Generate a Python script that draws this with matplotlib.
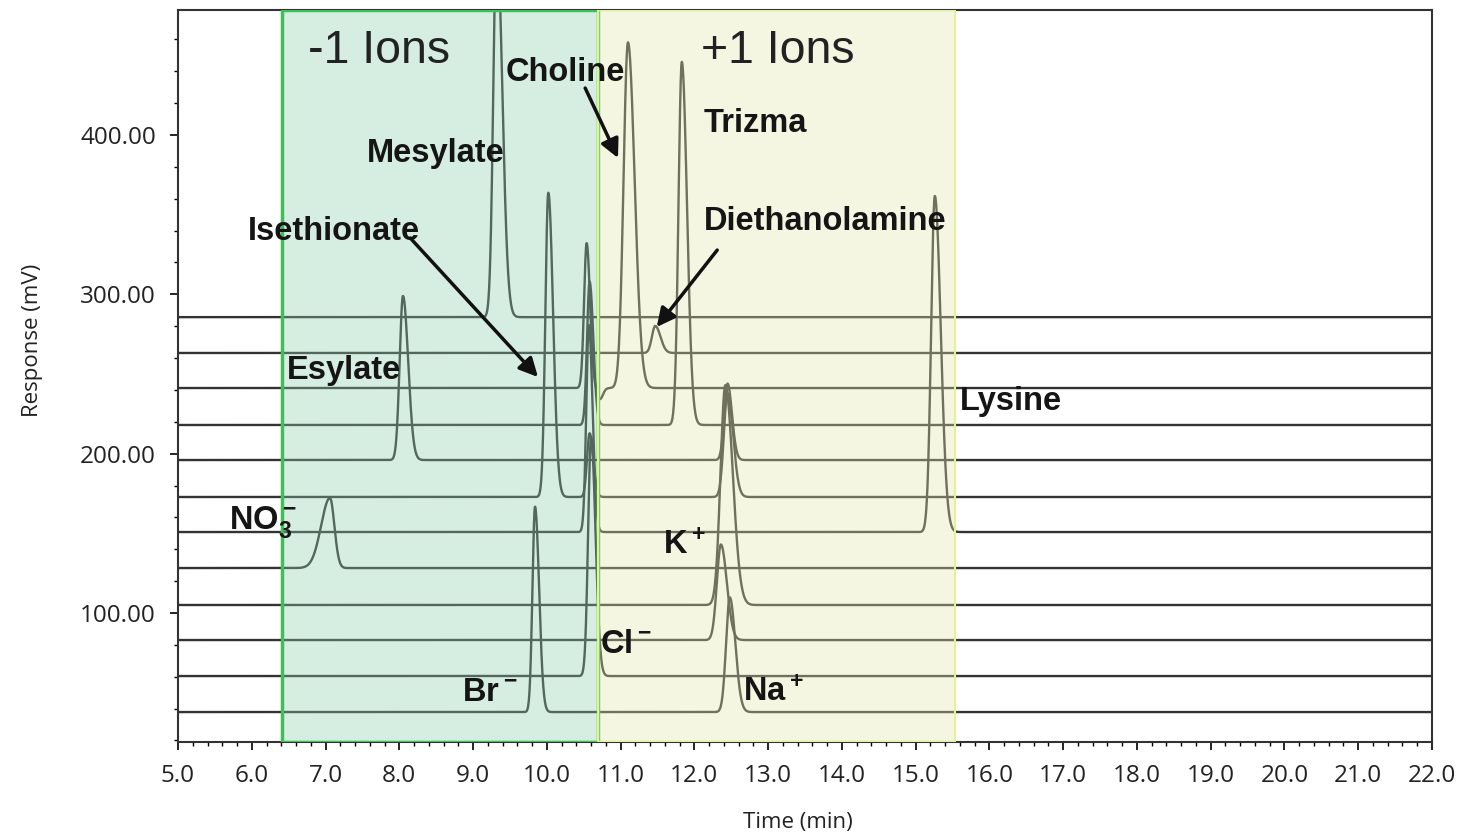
import numpy as np
import matplotlib.pyplot as plt
from matplotlib.patches import Rectangle
from matplotlib.ticker import MultipleLocator, FormatStrFormatter

plt.rcParams['font.family'] = ['Liberation Sans', 'DejaVu Sans']
plt.rcParams['mathtext.fontset'] = 'custom'
plt.rcParams['mathtext.rm'] = 'Liberation Sans'
plt.rcParams['mathtext.bf'] = 'Liberation Sans:bold'

# baseline of each stacked run (mV), top run first
baselines = [285.7, 263.2, 241.2, 218.0, 196.0, 172.8, 150.8, 128.2, 105.0, 83.0, 60.4, 37.8]

# peaks: run index, retention time (min), height above baseline (mV), left / right width (min)
peak_run    = [0,    1,     2,     2,     2,     3,     3,     4,    4,     5,     5,     5,
               6,     6,     7,    8,     9,     10,    11,    11]
peak_time   = [9.32, 11.47, 10.54, 10.72, 11.10, 10.58, 11.83, 8.05, 12.45, 10.02, 10.58, 12.45,
               10.57, 15.26, 7.06, 12.42, 12.36, 10.60, 9.84, 12.48]
peak_height = [240,  17,    91,    -7,    217,   90,    228,   103,  48,    191,   40,    65,
               130,   211,   44,   138,   60,    150,   129,  72]
peak_left   = [0.045, 0.045, 0.035, 0.03, 0.06,  0.035, 0.045, 0.045, 0.045, 0.04, 0.035, 0.05,
               0.035, 0.05,  0.12,  0.065, 0.055, 0.04,  0.035, 0.05]
peak_right  = [0.075, 0.07,  0.045, 0.04, 0.09,  0.05,  0.07,  0.07,  0.06,  0.065, 0.05, 0.075,
               0.05,  0.08,  0.06,  0.10,  0.08,  0.06,  0.055, 0.075]

# shaded retention windows
region_edges = [6.41, 10.69, 15.53]
region_names = ['-1 Ions', '+1 Ions']
region_name_x = [7.72, 13.13]
region_name_y = 453

# compound labels
label_text = ['Choline', 'Mesylate', 'Trizma', 'Isethionate', 'Diethanolamine', 'Esylate',
              'Lysine', r'$\mathbf{NO_3^-}$', r'$\mathbf{K^+}$', r'$\mathbf{Cl^-}$',
              r'$\mathbf{Br^-}$', r'$\mathbf{Na^+}$']
label_x = [10.25, 8.50, 12.82, 7.12, 13.77, 7.25, 16.29, 6.15, 11.86, 11.07, 9.23, 13.07]
label_y = [439.5, 388.7, 407.5, 339.7, 346.0, 252.5, 233.0, 157.0, 142.6, 80.0, 50.3, 50.3]

# arrows (from -> to)
arrow_from = [(8.15, 335.3), (10.52, 429.5), (12.31, 327.8)]
arrow_to = [(9.88, 248.1), (10.965, 385.6), (11.49, 279.5)]

t = np.linspace(5.0, 22.0, 4000)

fig = plt.figure(figsize=(14.58, 8.35), dpi=100)
ax = fig.add_axes([178 / 1458, 1 - 742 / 835, 1254 / 1458, 732 / 835])

for i, base in enumerate(baselines):
    y = np.full_like(t, base)
    for r, t0, h, sl, sr in zip(peak_run, peak_time, peak_height, peak_left, peak_right):
        if r != i:
            continue
        s = np.where(t < t0, sl, sr)
        y += h * np.exp(-0.5 * ((t - t0) / s) ** 2)
    ax.plot(t, y, color='#333333', lw=1.7, zorder=2)

# green window for anions, yellow for cations (drawn over the traces)
ax.add_patch(Rectangle((region_edges[0], 19), region_edges[1] - region_edges[0], 459.5,
                       facecolor=(0.55, 0.80, 0.68, 0.35), edgecolor='#3fbf55', lw=2.5, zorder=3))
ax.add_patch(Rectangle((region_edges[1], 19), region_edges[2] - region_edges[1], 459.5,
                       facecolor=(0.88, 0.90, 0.67, 0.35), edgecolor='#e3f29a', lw=1.5, zorder=3))

for name, x in zip(region_names, region_name_x):
    ax.text(x, region_name_y, name, fontsize=33.5, ha='center', va='center', color='#222222', zorder=5)

for s, x, y in zip(label_text, label_x, label_y):
    ax.text(x, y, s, fontsize=23.5, fontweight='bold', ha='center', va='center', color='#151515', zorder=5)

for a, b in zip(arrow_from, arrow_to):
    ax.annotate('', xy=b, xytext=a, zorder=5,
                arrowprops=dict(arrowstyle='-|>', color='#111111', lw=2.5, mutation_scale=28,
                                shrinkA=0, shrinkB=0))

ax.set_xlim(5.0, 22.0)
ax.set_ylim(19, 478.5)
ax.set_xticks(np.arange(5.0, 22.01, 1.0))
ax.set_yticks([100, 200, 300, 400])
ax.xaxis.set_minor_locator(MultipleLocator(0.2))
ax.yaxis.set_minor_locator(MultipleLocator(20))
ax.xaxis.set_major_formatter(FormatStrFormatter('%.1f'))
ax.yaxis.set_major_formatter(FormatStrFormatter('%.2f'))
ax.tick_params(which='major', length=6, width=1.2, labelsize=17.5, pad=10, labelcolor='#222222')
ax.tick_params(which='minor', length=3, width=1.0)
for tl in ax.get_xticklabels() + ax.get_yticklabels():
    tl.set_family(['Open Sans', 'DejaVu Sans'])
for sp in ax.spines.values():
    sp.set_color('#333333')
    sp.set_linewidth(1.5)

ax.set_xlabel('Time (min)', fontsize=16, family=['Open Sans', 'DejaVu Sans'], color='#222222')
ax.set_ylabel('Response (mV)', fontsize=16, family=['Open Sans', 'DejaVu Sans'], color='#222222')
ax.xaxis.set_label_coords(0.494, -0.095)
ax.yaxis.set_label_coords(-0.108, 0.549)

fig.savefig('out.png', dpi=100)
